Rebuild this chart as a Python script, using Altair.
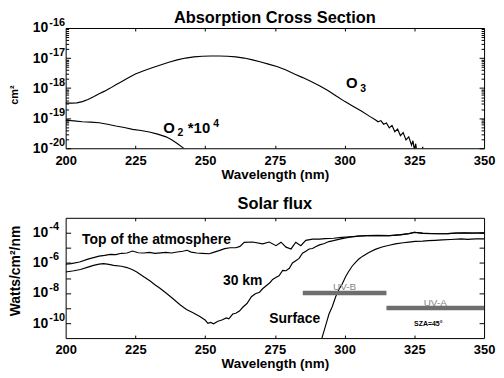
import math
import altair as alt
import pandas as pd

# ---------------- data ----------------
# Absorption cross sections, values given as log10(cm^2)
o3_wl = [200, 202, 204, 206, 208, 210, 212, 214, 216, 218, 220, 222, 225, 228, 231, 234, 237, 240,
         243, 246, 249, 252, 255, 258, 261, 264, 267, 270, 273, 276, 279, 282, 285, 288, 291, 294,
         297, 300, 303, 306, 309, 311, 312, 313, 314, 315, 316, 317, 318, 319, 320, 321, 322, 323,
         324, 324.5, 325, 325.5, 326, 327.5, 328, 328.5]
o3_exp = [-18.50, -18.50, -18.49, -18.45, -18.38, -18.29, -18.19, -18.10, -18.00, -17.89, -17.79,
          -17.68, -17.53, -17.42, -17.32, -17.23, -17.14, -17.06, -17.00, -16.96, -16.94, -16.93,
          -16.93, -16.94, -16.96, -17.00, -17.06, -17.13, -17.21, -17.29, -17.40, -17.53, -17.65,
          -17.78, -17.92, -18.08, -18.26, -18.44, -18.60, -18.76, -18.94, -19.05, -19.12, -19.08,
          -19.20, -19.16, -19.32, -19.24, -19.45, -19.36, -19.58, -19.48, -19.72, -19.62, -19.90,
          -19.75, -20.05, -19.85, -20.20, -20.20, -19.95, -20.30]
o2_wl = [200, 203, 206, 209, 212, 215, 218, 221, 224, 227, 230, 233, 236, 238, 240, 242, 243]
o2_exp = [-19.07, -19.09, -19.12, -19.13, -19.15, -19.20, -19.26, -19.31, -19.37, -19.41, -19.46,
          -19.53, -19.62, -19.72, -19.84, -19.98, -20.05]

# Solar flux, values given as log10(W/cm^2/nm)
toa_wl = [200, 202, 205, 208, 210, 212, 214, 216, 218, 220, 222, 224, 226, 228, 230, 232, 234, 236,
          238, 240, 242, 243.5, 245, 247, 249, 251.5, 253, 255, 257, 259, 261, 262.5, 264, 267,
          270.6, 273, 275.4, 277.2, 279, 280.8, 282.5, 284.3, 286.1, 288.5, 291, 293, 296, 299,
          302, 305, 308, 312, 316, 320, 323, 325, 328, 331, 334, 337, 340, 343, 346, 350]
toa_exp = [-6.09, -6.05, -5.94, -5.75, -5.65, -5.55, -5.50, -5.43, -5.45, -5.36, -5.34, -5.21,
           -5.32, -5.34, -5.30, -5.36, -5.33, -5.30, -5.34, -5.27, -5.22, -5.16, -5.28, -5.34,
           -5.36, -5.39, -5.30, -5.18, -5.05, -4.99, -4.99, -4.90, -4.63, -4.61, -4.73, -4.61,
           -4.85, -4.62, -4.95, -5.07, -4.62, -4.85, -4.50, -4.42, -4.42, -4.38, -4.36, -4.30,
           -4.26, -4.21, -4.18, -4.17, -4.18, -4.12, -4.05, -3.96, -4.02, -4.04, -4.06, -4.05,
           -4.01, -4.00, -4.01, -4.00]
km30_wl = [200, 203, 205.3, 208, 210, 212, 213.6, 215.5, 217.2, 220, 222, 224, 225.5, 228, 230.3,
           232, 233.8, 236, 238.6, 241, 243.3, 245.5, 248.1, 250, 251, 252, 253, 254.6, 256,
           257.6, 258.5, 259.9, 261, 262.3, 263.5, 265, 266.6, 268, 269.5, 270.6, 272, 273.3,
           274.2, 275.5, 276.5, 277.8, 279, 280.2, 281.3, 282.5, 283.7, 284.9, 286.1, 287.3,
           288.5, 289.6, 291, 292.5, 294.4, 296, 297.5, 299.1, 300.4, 302, 305, 308, 312, 316,
           320, 323, 325, 328, 331, 334, 337, 340, 343, 346, 350]
km30_exp = [-6.60, -6.52, -6.44, -6.28, -6.16, -6.08, -6.05, -6.10, -6.16, -6.22, -6.31, -6.45,
            -6.60, -6.92, -7.20, -7.45, -7.68, -8.00, -8.40, -8.78, -9.10, -9.30, -9.57, -9.80,
            -10.02, -9.96, -10.05, -9.88, -9.80, -9.66, -9.72, -9.40, -9.35, -9.20, -8.95, -8.70,
            -8.25, -8.05, -7.95, -7.72, -7.50, -7.30, -7.10, -6.95, -6.85, -6.50, -6.52, -6.36,
            -6.00, -5.85, -5.70, -5.35, -5.22, -5.07, -5.04, -4.92, -4.80, -4.72, -4.58, -4.52,
            -4.45, -4.38, -4.33, -4.28, -4.22, -4.19, -4.18, -4.19, -4.13, -4.06, -3.97, -4.03,
            -4.05, -4.06, -4.05, -4.02, -4.01, -4.02, -4.01]
sfc_wl = [291.8, 292.5, 293.3, 294.4, 295.6, 296.8, 298, 299.1, 300.4, 301.5, 302.7, 304, 305.1,
          306.5, 308.7, 311, 313.4, 316, 318.2, 321, 323, 325.3, 328, 330, 332.4, 335, 338,
          341.9, 344, 347, 350]
sfc_exp = [-11.05, -10.6, -10.1, -9.4, -8.9, -8.25, -7.75, -7.42, -6.90, -6.55, -6.22, -5.95,
           -5.74, -5.55, -5.30, -5.10, -4.94, -4.82, -4.73, -4.66, -4.62, -4.57, -4.55, -4.52,
           -4.50, -4.47, -4.44, -4.40, -4.43, -4.40, -4.40]

band_names = ["UV-B", "UV-A"]
band_start = [285, 315]
band_end = [315, 350]
band_level = [1e-8, 1e-9]
band_label_wl = [300, 332.5]
band_label_val = [2.6e-8, 2.1e-9]

x_ticks = [200, 225, 250, 275, 300, 325, 350]
top_decades = [1e-20, 1e-19, 1e-18, 1e-17, 1e-16]
top_exponents = ["-20", "-19", "-18", "-17", "-16"]
bot_tick_decades = [1e-10, 1e-9, 1e-8, 1e-7, 1e-6, 1e-5, 1e-4]
bot_label_decades = [1e-10, 1e-8, 1e-6, 1e-4]
bot_exponents = ["-10", "-8", "-6", "-4"]
top_minor = [m * 10.0 ** e for e in range(-20, -16) for m in range(2, 10)]

# annotation pieces: main glyphs and their sub/superscripts
top_main_text = ["O", "O", "*10"]
top_main_wl = [300.5, 235.0, 243.8]
top_main_val = [1.45e-18, 4.7e-20, 4.7e-20]
top_small_text = ["3", "2", "4"]
top_small_wl = [305.6, 240.1, 252.9]
top_small_val = [9.5e-19, 3.2e-20, 6.2e-20]

curve_notes = ["Top of the atmosphere", "30 km", "Surface"]
curve_note_wl = [205.9, 256.4, 273.0]
curve_note_val = [3.5e-5, 6.5e-8, 1.8e-10]

sza_note = ["SZA=45°"]
sza_wl = [330]
sza_val = [8.1e-11]

# ---------------- helpers ----------------
FONT = "Liberation Sans"
W, H = 421, 121


def table(wl, exps):
    return pd.DataFrame({"wl": wl, "v": [10.0 ** e for e in exps]})


def exp_expr(decades, labels, lo, hi):
    arr = [""] * (hi - lo + 1)
    for d, s in zip(decades, labels):
        arr[round(math.log10(d)) - lo] = s
    return "[" + ",".join("'" + s + "'" for s in arr) + "][round(log(datum.value)/LN10)-(" + str(lo) + ")]"


XS = alt.Scale(domain=[200, 350], nice=False, zero=False)
YS1 = alt.Scale(type="log", domain=[1e-20, 1e-16], nice=False)
YS2 = alt.Scale(type="log", domain=[1e-11, 1e-3], nice=False)


def x_main():
    return alt.Axis(orient="bottom", values=x_ticks, tickSize=0, domain=False, grid=False,
                    labelPadding=6, labelFlush=False, labelFontSize=13, labelFontWeight="bold",
                    title="Wavelength (nm)", titleFontSize=13.5, titleFontWeight="bold",
                    titlePadding=0)


def x_tick_axis(orient):
    return alt.Axis(orient=orient, offset=-H, values=x_ticks[1:-1], tickSize=3, labels=False,
                    domain=False, grid=False, title=None)


def y_tick_axis(orient, values, size):
    return alt.Axis(orient=orient, offset=-W, values=values, tickSize=size, labels=False,
                    domain=False, grid=False, title=None)


def y_base(values, title, tx, ty, tfs):
    # the "10" part of each label, plus the axis title
    return alt.Axis(orient="left", values=values, labelExpr="'10'", tickSize=0, domain=False,
                    grid=False, labelPadding=18, labelFlush=False, labelFontSize=14,
                    labelFontWeight="bold", labelBaseline="middle",
                    title=title, titleFontSize=tfs, titleFontWeight="bold", titleX=tx, titleY=ty,
                    titleAngle=270, titleAlign="center", titleBaseline="middle")


def y_exponent(values, expr):
    return alt.Axis(orient="left", values=values, labelExpr=expr, tickSize=0, ticks=False,
                    domain=False, grid=False, labelPadding=17, labelAlign="left",
                    labelBaseline="middle", labelOffset=-6, labelFlush=False, labelFontSize=11,
                    labelFontWeight="bold", title=None)


def line(df, xax, yax, ys):
    return alt.Chart(df).mark_line(color="black", strokeWidth=1.15, clip=True).encode(
        x=alt.X("wl:Q", scale=XS, axis=xax),
        y=alt.Y("v:Q", scale=ys, axis=yax),
    )


# ---------------- top panel ----------------
top_main_df = pd.DataFrame({"wl": top_main_wl, "v": top_main_val, "t": top_main_text})
top_small_df = pd.DataFrame({"wl": top_small_wl, "v": top_small_val, "t": top_small_text})

top = alt.layer(
    line(table(o3_wl, o3_exp), x_main(), y_base(top_decades, "cm²", -51, 67, 11), YS1),
    line(table(o2_wl, o2_exp), x_tick_axis("top"), y_tick_axis("right", top_decades, 5), YS1),
    alt.Chart(top_main_df).mark_text(font=FONT, fontSize=15, fontWeight="bold", align="left",
                                     baseline="middle", color="black").encode(
        x=alt.X("wl:Q", scale=XS, axis=x_tick_axis("bottom")),
        y=alt.Y("v:Q", scale=YS1, axis=y_tick_axis("right", top_minor, 3)),
        text="t:N"),
    alt.Chart(top_small_df).mark_text(font=FONT, fontSize=10.5, fontWeight="bold", align="left",
                                      baseline="middle", color="black").encode(
        x=alt.X("wl:Q", scale=XS, axis=None),
        y=alt.Y("v:Q", scale=YS1, axis=y_tick_axis("left", top_decades, 5)),
        text="t:N"),
    alt.Chart(top_main_df).mark_point(opacity=0).encode(
        x=alt.X("wl:Q", scale=XS, axis=None),
        y=alt.Y("v:Q", scale=YS1, axis=y_tick_axis("left", top_minor, 3))),
    alt.Chart(top_small_df).mark_point(opacity=0).encode(
        x=alt.X("wl:Q", scale=XS, axis=None),
        y=alt.Y("v:Q", scale=YS1,
                axis=y_exponent(top_decades, exp_expr(top_decades, top_exponents, -20, -16)))),
).resolve_axis(x="independent", y="independent").properties(
    width=W, height=H,
    title=alt.Title("Absorption Cross Section", fontSize=16.5, fontWeight="bold", font=FONT,
                    offset=-10, anchor="middle", color="black"))

# ---------------- bottom panel ----------------
bands_df = pd.DataFrame({"name": band_names, "s": band_start, "e": band_end, "v": band_level,
                         "lw": band_label_wl, "lv": band_label_val})
curve_df = pd.DataFrame({"wl": curve_note_wl, "v": curve_note_val, "t": curve_notes})
sza_df = pd.DataFrame({"wl": sza_wl, "v": sza_val, "t": sza_note})

bottom = alt.layer(
    line(table(toa_wl, toa_exp), x_main(),
         y_base(bot_label_decades, "Watts/cm²/nm", -50, 53, 14), YS2),
    line(table(km30_wl, km30_exp), x_tick_axis("top"),
         y_tick_axis("right", bot_tick_decades, 5), YS2),
    line(table(sfc_wl, sfc_exp), x_tick_axis("bottom"),
         y_tick_axis("left", bot_tick_decades, 5), YS2),
    alt.Chart(bands_df).mark_rule(color="#6e6e6e", strokeWidth=4.5).encode(
        x=alt.X("s:Q", scale=XS, axis=None), x2="e:Q",
        y=alt.Y("v:Q", scale=YS2,
                axis=y_exponent(bot_label_decades, exp_expr(bot_label_decades, bot_exponents, -10, -4)))),
    alt.Chart(bands_df).mark_text(font=FONT, fontSize=10, color="#858585", baseline="middle").encode(
        x=alt.X("lw:Q", scale=XS, axis=None),
        y=alt.Y("lv:Q", scale=YS2, axis=None), text="name:N"),
    alt.Chart(curve_df).mark_text(font=FONT, fontSize=14, fontWeight="bold", align="left",
                                  baseline="middle", color="black").encode(
        x=alt.X("wl:Q", scale=XS, axis=None),
        y=alt.Y("v:Q", scale=YS2, axis=None), text="t:N"),
    alt.Chart(sza_df).mark_text(font=FONT, fontSize=7, fontWeight="bold", baseline="middle",
                                color="black").encode(
        x=alt.X("wl:Q", scale=XS, axis=None),
        y=alt.Y("v:Q", scale=YS2, axis=None), text="t:N"),
).resolve_axis(x="independent", y="independent").properties(
    width=W, height=H,
    title=alt.Title("Solar flux", fontSize=16.5, fontWeight="bold", font=FONT,
                    offset=5, anchor="middle", color="black"))

chart = alt.vconcat(top, bottom, spacing=14).properties(padding=0).configure_view(
    stroke="black", strokeWidth=1).configure_axis(
    labelFont=FONT, titleFont=FONT, labelColor="black", titleColor="black",
    tickColor="black", domainColor="black")

chart.save("out.html", embed_options={"renderer": "svg", "actions": False})
